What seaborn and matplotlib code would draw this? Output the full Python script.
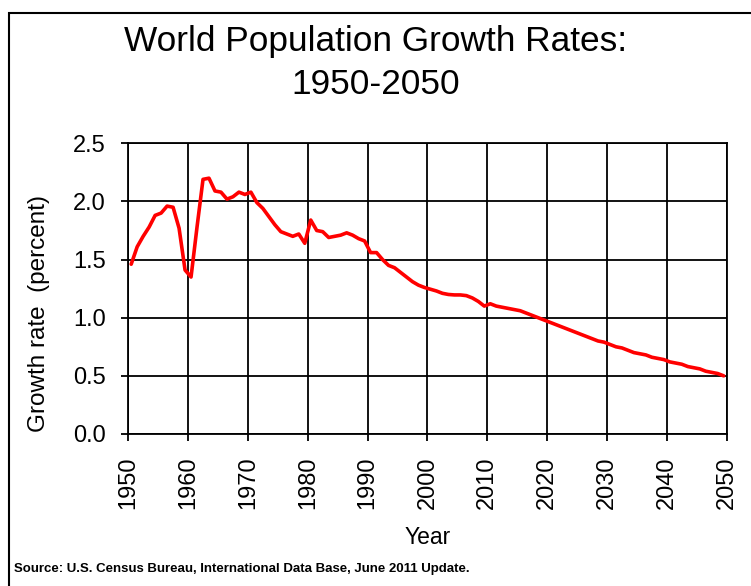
import numpy as np
import pandas as pd
import matplotlib
matplotlib.use('Agg')
import matplotlib.pyplot as plt
import seaborn as sns
from matplotlib.patches import Rectangle
from matplotlib.ticker import MultipleLocator, FormatStrFormatter

# Growth rate (percent) for each year's interval
years = list(range(1950, 2050))
growth = [
    1.46, 1.61, 1.70, 1.78, 1.88, 1.90, 1.96, 1.95, 1.77, 1.41,   # 1950s
    1.35, 1.78, 2.19, 2.20, 2.09, 2.08, 2.02, 2.04, 2.08, 2.06,   # 1960s
    2.08, 1.99, 1.94, 1.87, 1.80, 1.74, 1.72, 1.70, 1.72, 1.64,   # 1970s
    1.84, 1.75, 1.74, 1.69, 1.70, 1.71, 1.73, 1.71, 1.68, 1.66,   # 1980s
    1.56, 1.56, 1.50, 1.45, 1.43, 1.39, 1.35, 1.31, 1.28, 1.26,   # 1990s
    1.245, 1.23, 1.21, 1.20, 1.196, 1.196, 1.19, 1.17, 1.14, 1.10,  # 2000s
    1.12, 1.10, 1.09, 1.08, 1.07, 1.06, 1.04, 1.02, 1.00, 0.98,   # 2010s
    0.96, 0.94, 0.92, 0.90, 0.88, 0.86, 0.84, 0.82, 0.80, 0.79,   # 2020s
    0.77, 0.75, 0.74, 0.72, 0.70, 0.69, 0.68, 0.66, 0.65, 0.64,   # 2030s
    0.62, 0.61, 0.60, 0.58, 0.57, 0.56, 0.54, 0.53, 0.52, 0.50,   # 2040s
]
x_ticks = list(range(1950, 2051, 10))

title = "World Population Growth Rates:\n1950-2050"
source = "Source: U.S. Census Bureau, International Data Base, June 2011 Update."

df = pd.DataFrame({'year': years, 'growth': growth})
# each rate covers one year, so it is drawn at the middle of that year
df['pos'] = df['year'] + 0.5

sns.set_theme(style='white')
plt.rcParams['font.family'] = ['Liberation Sans', 'DejaVu Sans']

fig = plt.figure(figsize=(7.51, 5.86), dpi=100)
ax = fig.add_axes([128.2 / 751, 1 - 434 / 586, 598.5 / 751, 290.7 / 586])

sns.lineplot(data=df, x='pos', y='growth', color='#ff0000', linewidth=2.6, ax=ax)

ax.set_xlim(1950, 2050)
ax.set_ylim(0, 2.5)
ax.set_xticks(x_ticks)
ax.yaxis.set_major_locator(MultipleLocator(0.5))
ax.yaxis.set_major_formatter(FormatStrFormatter('%.1f'))
ax.grid(True, color='black', linewidth=1.3)
for s in ax.spines.values():
    s.set_color('black')
    s.set_linewidth(1.3)

ax.tick_params(axis='both', which='major', direction='out', length=5.3, width=1.3,
               color='black', labelsize=17, labelcolor='black')
ax.tick_params(axis='y', pad=11, left=True)
ax.tick_params(axis='x', pad=11, bottom=True, labelrotation=90)

ax.set_xlabel('Year', fontsize=16.5, color='black')
ax.set_ylabel('Growth rate  (percent)', fontsize=17.5, color='black')
ax.xaxis.set_label_coords(0.5, -(526 - 434) / 290.7)
ax.yaxis.set_label_coords((50 - 128.2) / 598.5, (434 - 313.5) / 290.7)

fig.text(0.5, 1 - 63 / 586, title, ha='center', va='center', fontsize=25.4,
         linespacing=1.4, color='black')
fig.text(14 / 751, 1 - 569 / 586, source, ha='left', va='center', fontsize=9.5,
         fontweight='bold', color='black')

# outer frame, runs off the right and bottom edges
fig.patches.append(Rectangle((9 / 751, -0.1), 1.2, 1.1 - 13 / 586, transform=fig.transFigure,
                             fill=False, edgecolor='black', linewidth=1.5))

fig.savefig('out.png', dpi=100)
